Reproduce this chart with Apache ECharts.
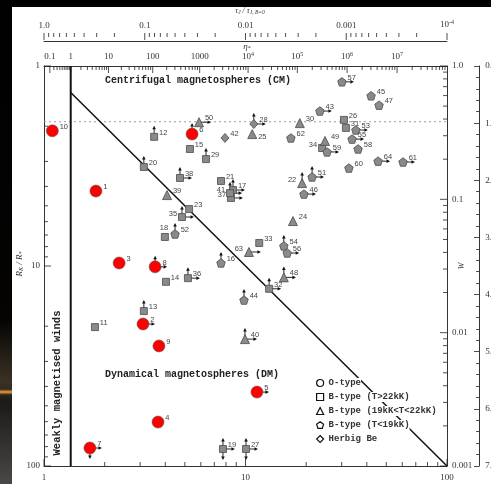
<!DOCTYPE html>
<html><head><meta charset="utf-8">
<style>html,body{margin:0;padding:0;background:#fff;}#c{width:491px;height:484px;}</style>
<script src="https://cdn.jsdelivr.net/npm/echarts@6/dist/echarts.min.js"></script>
</head><body><div id="c"></div>
<script>
// ---- data ----
const starIds = [1,2,3,4,5,6,7,8,9,10,11,12,13,14,15,16,17,18,19,20,21,22,23,24,25,26,27,28,29,30,31,32,
  33,34,35,36,37,38,39,40,41,42,43,44,45,46,47,48,49,50,51,52,53,54,55,56,57,58,59,60,61,62,63,64];
const alfvenR = [1.81,3.10,2.36,3.68,11.4,5.43,1.69,3.56,3.72,1.10,1.79,3.52,3.13,4.03,5.30,7.56,8.67,3.98,7.73,3.13,
  7.56,19.1,5.25,17.2,10.8,30.8,10.06,11.0,6.37,18.6,31.5,13.1,11.7,24.0,4.84,5.18,8.47,4.73,4.08,9.94,
  8.38,7.91,23.4,9.83,42.0,19.5,46.0,15.5,24.8,5.88,21.4,4.47,35.3,15.5,33.8,16.1,30.1,36.2,25.4,32.6,
  60.5,16.8,10.4,45.5];
const keplerR = [4.22,19.5,9.66,60.3,42.7,2.19,81.3,10.1,25.1,2.11,20.2,2.26,16.8,12.0,2.60,9.66,4.17,7.16,82.2,3.20,
  3.76,3.85,5.19,5.96,2.19,1.86,82.2,1.95,2.92,1.93,2.04,13.0,7.67,2.57,5.69,11.5,4.57,3.63,4.42,23.2,
  4.32,2.29,1.68,14.8,1.41,4.37,1.57,11.4,2.37,1.91,3.59,6.92,2.09,7.94,2.32,8.61,1.20,2.60,2.69,3.24,
  3.02,2.29,8.51,2.99];
// O = O-type, S = B (T>22kK), T = B (19-22kK), P = B (T<19kK), D = Herbig Be
const starType = ['O','O','O','O','O','O','O','O','O','O','S','S','S','S','S','P','S','S','S','S',
  'S','T','S','T','T','S','S','D','S','T','S','S','S','S','S','S','S','S','T','T',
  'S','D','P','P','P','P','P','T','T','T','P','P','P','P','P','P','P','P','P','P',
  'P','P','T','P'];
// limit arrows: u = up, d = down, r = right
const starLimits = ['','r','','','r','u','dr','ur','','','','u','u','','','u','ur','','udr','u',
  '','u','','','','','udr','ur','u','','','ur','','','ur','ur','r','ur','','ur',
  'ur','','r','u','','r','','ur','','r','ur','u','r','u','r','r','r','','r','',
  'r','','r','r'];
const leftLabelIds = [22,34,35,37,41,63];
const topLabelIds = [18];
const belowLabelIds = [25];
const weakWindLimitRA = 1.357;   // eta* = 1
const dottedRK = 1.9;
const etaLabelValues = [0.1,1,10,100,1000,1e4,1e5,1e6,1e7];
const xTickLabels = [1,10,100];

// ---- helpers ----
function logTicks(lo, hi){
  const out=[];
  for(let e=Math.floor(Math.log10(lo)); e<=Math.ceil(Math.log10(hi)); e++){
    for(let k=1;k<10;k++){
      const v=k*Math.pow(10,e);
      if(v>=lo*0.99999 && v<=hi*1.00001) out.push([v, k===1?1:0]);
    }
  }
  return out;
}
const etaToRA = eta => 0.3 + Math.pow(eta+0.25, 0.25);
const PENT = 'path://M0,-1L0.951,-0.309L0.588,0.809L-0.588,0.809L-0.951,-0.309Z';
const serif = 'Liberation Serif';
const mono = 'Liberation Mono';

function tickSeries(xi, yi, data, dir, withLabels){
  return {
    type:'custom', xAxisIndex:xi, yAxisIndex:yi, silent:true, z:3, clip:false,
    data,
    renderItem(params, api){
      const p = api.coord([api.value(0), api.value(1)]);
      const major = api.value(2) === 1;
      const len = major ? 7 : 4;
      const ch = [{type:'line', shape:{x1:p[0], y1:p[1], x2:p[0]+dir[0]*len, y2:p[1]+dir[1]*len},
        style:{stroke:'#222', lineWidth:0.8}}];
      if (withLabels && major) {
        const v = api.value(3);
        if (etaLabelValues.some(e => Math.abs(e - v)/e < 1e-6)) {
          const txt = v < 1e4 ? String(v) : '10{s|' + Math.round(Math.log10(v)) + '}';
          ch.push({type:'text', x:p[0], y:p[1]-9, style:{text:txt, align:'center', verticalAlign:'middle',
            font:'9px ' + serif, fill:'#333', rich:{s:{fontSize:6, fontFamily:serif, padding:[0,0,5,0], fill:'#333'}}}});
        }
      }
      return {type:'group', children:ch};
    }
  };
}

const typeStyle = {
  O:{name:'O-type', symbol:'circle', size:12, fill:'#ff0000', stroke:'#555', bw:0.6, icon:'circle'},
  S:{name:'B-type (T>22kK)', symbol:'rect', size:7, fill:'#8a8a8a', stroke:'#4a4a4a', bw:0.8, icon:'rect'},
  T:{name:'B-type (19kK<T<22kK)', symbol:'triangle', size:9, fill:'#8a8a8a', stroke:'#4a4a4a', bw:0.8, icon:'triangle'},
  P:{name:'B-type (T<19kK)', symbol:PENT, size:8.5, fill:'#8a8a8a', stroke:'#4a4a4a', bw:0.8, icon:PENT},
  D:{name:'Herbig Be', symbol:'diamond', size:[8,9], fill:'#8a8a8a', stroke:'#4a4a4a', bw:0.8, icon:'diamond'}
};

const scatterSeries = Object.keys(typeStyle).map(k=>{
  const st = typeStyle[k];
  const data=[];
  starIds.forEach((id,i)=>{
    if(starType[i]!==k) return;
    let lab;
    if (leftLabelIds.includes(id)) lab={position:'left', offset:[0,-3]};
    else if (topLabelIds.includes(id)) lab={position:'top', offset:[-1,0]};
    else if (belowLabelIds.includes(id)) lab={position:'right', offset:[0,3]};
    else lab={position:'right', offset:[0,-4]};
    data.push({name:String(id), value:[alfvenR[i], keplerR[i]], label:lab});
  });
  return {type:'scatter', name:st.name, xAxisIndex:0, yAxisIndex:0, symbol:st.symbol, symbolSize:st.size,
    itemStyle:{color:st.fill, borderColor:st.stroke, borderWidth:st.bw, opacity:1},
    label:{show:true, formatter:'{b}', distance:1, fontSize:7.5, color:'#444', fontFamily:'Liberation Sans'},
    emphasis:{disabled:true}, z:5, data};
});

const arrowSeries = {
  type:'custom', xAxisIndex:0, yAxisIndex:0, silent:true, z:4,
  data: starIds.map((id,i)=>[alfvenR[i], keplerR[i], i]),
  renderItem(params, api){
    const p = api.coord([api.value(0), api.value(1)]);
    const lim = starLimits[api.value(2)];
    const ch=[];
    const st = {stroke:'#111', lineWidth:0.9};
    for (const c of lim){
      if (c==='u'){
        ch.push({type:'line', shape:{x1:p[0],y1:p[1],x2:p[0],y2:p[1]-8}, style:st});
        ch.push({type:'polygon', shape:{points:[[p[0],p[1]-11],[p[0]-1.8,p[1]-7.5],[p[0]+1.8,p[1]-7.5]]}, style:{fill:'#111'}});
      } else if (c==='d'){
        ch.push({type:'line', shape:{x1:p[0],y1:p[1],x2:p[0],y2:p[1]+8}, style:st});
        ch.push({type:'polygon', shape:{points:[[p[0],p[1]+11],[p[0]-1.8,p[1]+7.5],[p[0]+1.8,p[1]+7.5]]}, style:{fill:'#111'}});
      } else if (c==='r'){
        ch.push({type:'line', shape:{x1:p[0],y1:p[1],x2:p[0]+9,y2:p[1]}, style:st});
        ch.push({type:'polygon', shape:{points:[[p[0]+12,p[1]],[p[0]+8.5,p[1]-1.8],[p[0]+8.5,p[1]+1.8]]}, style:{fill:'#111'}});
      }
    }
    return {type:'group', children:ch};
  }
};

const axisLineStyle = {show:true, lineStyle:{color:'#333', width:1}};
const lblBase = {fontSize:9, color:'#333', fontFamily:serif};

const option = {
  animation:false,
  backgroundColor:'#fff',
  grid:[
    {left:44, top:66, width:403, height:400},
    {left:44, top:33, width:403, height:8},
    {left:479, top:66, width:1, height:400}
  ],
  xAxis:[
    {type:'log', logBase:10, min:1, max:100, gridIndex:0, position:'bottom', axisLine:axisLineStyle,
      axisTick:{show:false}, splitLine:{show:false}, minorTick:{show:false},
      axisLabel:Object.assign({margin:7, formatter:v=>xTickLabels.includes(Math.round(v))?String(Math.round(v)):''}, lblBase)},
    {type:'log', logBase:10, min:1, max:100, gridIndex:0, position:'top', axisLine:axisLineStyle,
      axisTick:{show:false}, axisLabel:{show:false}, splitLine:{show:false}},
    {type:'log', logBase:10, min:1e-4, max:1, inverse:true, gridIndex:1, position:'top', axisLine:axisLineStyle,
      axisTick:{show:false}, splitLine:{show:false},
      axisLabel:Object.assign({margin:3, formatter:v=>{
        const e=Math.round(Math.log10(v));
        if(e===0) return '1.0'; if(e===-4) return '10{s|-4}';
        return v.toFixed(-e);
      }, rich:{s:{fontSize:6, fontFamily:serif, color:'#333', padding:[0,0,5,0]}}}, lblBase)},
    {type:'value', gridIndex:2, show:false, min:0, max:1}
  ],
  yAxis:[
    {type:'log', logBase:10, min:1, max:100, inverse:true, gridIndex:0, position:'left', axisLine:axisLineStyle,
      axisTick:{show:false}, splitLine:{show:false}, axisLabel:Object.assign({margin:4}, lblBase)},
    {type:'log', logBase:10, min:0.001, max:1, gridIndex:0, position:'right', axisLine:axisLineStyle,
      axisTick:{show:false}, splitLine:{show:false},
      axisLabel:Object.assign({margin:5, formatter:v=>{const e=Math.round(Math.log10(v)); return e===0?'1.0':v.toFixed(-e);}}, lblBase)},
    {type:'value', gridIndex:1, min:0, max:1, show:false},
    {type:'value', gridIndex:2, min:0, max:7, interval:1, inverse:true, position:'right',
      axisLine:axisLineStyle, axisTick:{show:true, inside:true, length:5, lineStyle:{color:'#222', width:0.8}},
      minorTick:{show:true, splitNumber:5, length:3, lineStyle:{color:'#222', width:0.8}},
      splitLine:{show:false}, axisLabel:Object.assign({margin:6, formatter:v=>v.toFixed(1)}, lblBase)}
  ],
  legend:{
    orient:'vertical', left:316, top:378, itemWidth:7, itemHeight:7, itemGap:4, selectedMode:false,
    padding:0,
    textStyle:{fontFamily:mono, fontWeight:'bold', fontSize:9, color:'#333', backgroundColor:'#fff', lineHeight:10},
    data:Object.keys(typeStyle).map(k=>({name:typeStyle[k].name, icon:typeStyle[k].icon,
      itemStyle:{color:'#fff', borderColor:'#111', borderWidth:1.2}}))
  },
  graphic:[
    {type:'rect', x:0, y:0, shape:{width:491, height:7}, style:{fill:'#000'}, z:100},
    {type:'rect', x:0, y:0, shape:{width:12, height:484}, z:100,
      style:{fill:new echarts.graphic.LinearGradient(0,0,0,1,[
        {offset:0,color:'#000'},{offset:0.66,color:'#050403'},{offset:0.79,color:'#3b3226'},
        {offset:0.83,color:'#1c1a18'},{offset:1,color:'#4a4744'}])}},
    {type:'rect', x:0, y:389, shape:{width:12, height:6}, z:101,
      style:{fill:new echarts.graphic.LinearGradient(0,0,0,1,[
        {offset:0,color:'rgba(200,120,40,0)'},{offset:0.5,color:'#f5a53a'},{offset:1,color:'rgba(200,120,40,0)'}])}},
    {type:'text', x:250, y:11, style:{text:'τ{s|J} / τ{s|J, B=0}', align:'center', verticalAlign:'middle',
      font:'italic 8px ' + serif, fill:'#333', rich:{s:{fontSize:5.5, fontStyle:'italic', fontFamily:serif, padding:[3,0,0,0]}}}},
    {type:'text', x:247, y:47, style:{text:'η{s|*}', align:'center', verticalAlign:'middle',
      font:'italic 9px ' + serif, fill:'#333', rich:{s:{fontSize:6, fontFamily:serif, padding:[3,0,0,0]}}}},
    {type:'text', x:105, y:80, style:{text:'Centrifugal magnetospheres (CM)', align:'left', verticalAlign:'middle',
      font:'bold 10px ' + mono, fill:'#222'}},
    {type:'text', x:105, y:374, style:{text:'Dynamical magnetospheres (DM)', align:'left', verticalAlign:'middle',
      font:'bold 10px ' + mono, fill:'#222'}},
    {type:'text', x:57, y:383, rotation:Math.PI/2, style:{text:'Weakly magnetised winds', align:'center', verticalAlign:'middle',
      font:'bold 10.5px ' + mono, fill:'#222'}},
    {type:'text', x:20, y:264, rotation:Math.PI/2, style:{text:'R{s|K} / R{s|*}', align:'center', verticalAlign:'middle',
      font:'italic 9px ' + serif, fill:'#333', rich:{s:{fontSize:6, fontStyle:'italic', fontFamily:serif, padding:[3,0,0,0]}}}},
    {type:'text', x:462, y:266, rotation:Math.PI/2, style:{text:'W', align:'center', verticalAlign:'middle',
      font:'italic 8px ' + serif, fill:'#333'}}
  ],
  series:[
    {type:'line', xAxisIndex:0, yAxisIndex:0, data:[[1,dottedRK],[142,dottedRK]], symbol:'none', clip:false, silent:true,
      lineStyle:{color:'#9a9a9a', width:1, type:[2,3]}, z:1},
    {type:'line', xAxisIndex:0, yAxisIndex:0, data:[[weakWindLimitRA,1],[weakWindLimitRA,100]], symbol:'none', silent:true,
      lineStyle:{color:'#111', width:2}, z:2},
    {type:'line', xAxisIndex:0, yAxisIndex:0, data:[[weakWindLimitRA,weakWindLimitRA],[100,100]], symbol:'none', silent:true,
      lineStyle:{color:'#111', width:1.5}, z:2},
    tickSeries(0,0, logTicks(1,100).map(t=>[t[0],100,t[1]]), [0,-1], false),
    tickSeries(0,0, logTicks(1,100).map(t=>[1,t[0],t[1]]), [1,0], false),
    tickSeries(0,1, logTicks(0.001,1).map(t=>[100,t[0],t[1]]), [-1,0], false),
    tickSeries(0,0, logTicks(0.1,9e7).map(t=>[etaToRA(t[0]),1,t[1],t[0]]), [0,1], true),
    tickSeries(2,2, logTicks(1e-4,1).map(t=>[t[0],1,t[1]]), [0,1], false),
    arrowSeries
  ].concat(scatterSeries)
};
const chart = echarts.init(document.getElementById('c'));
chart.setOption(option);
</script></body></html>
